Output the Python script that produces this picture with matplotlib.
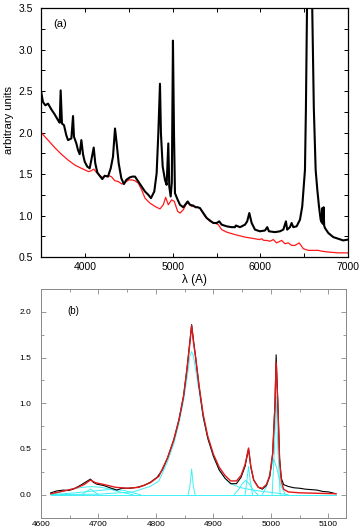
import matplotlib
matplotlib.use("Agg")
import matplotlib.pyplot as plt
from matplotlib.ticker import MultipleLocator, FixedLocator, FormatStrFormatter

plt.rcParams['font.family'] = ['Liberation Sans', 'DejaVu Sans']

# ---------------- Panel (a) data ----------------
wl_a_obs = [3500, 3520, 3547, 3578, 3616, 3654, 3692, 3711, 3722, 3737, 3760, 3786, 3806,
            3844, 3863, 3874, 3901, 3920, 3939, 3958, 3977, 3996, 4026, 4053, 4072, 4099,
            4117, 4140, 4167, 4197, 4224, 4262, 4293, 4319, 4342, 4361, 4384, 4414, 4444,
            4471, 4510, 4540, 4570, 4608, 4646, 4684, 4722, 4752, 4790, 4817, 4836, 4855,
            4866, 4886, 4912, 4931, 4950, 4961, 4977, 4990, 5003, 5015, 5026, 5057, 5083,
            5121, 5150, 5171, 5197, 5235, 5260, 5285, 5311, 5349, 5388, 5425, 5463, 5502,
            5531, 5559, 5616, 5673, 5711, 5720, 5768, 5825, 5850, 5874, 5901, 5939, 5996,
            6053, 6079, 6098, 6167, 6224, 6262, 6292, 6306, 6338, 6357, 6376, 6414, 6452,
            6478, 6498, 6509, 6520, 6532, 6545, 6560, 6575, 6592, 6610, 6631, 6650, 6669,
            6688, 6700, 6707, 6712, 6722, 6728, 6737, 6775, 6832, 6889, 6946, 7000]
flux_a_obs = [2.49, 2.37, 2.33, 2.35, 2.28, 2.22, 2.15, 2.12, 2.51, 2.11, 2.09, 1.97, 1.91,
              1.93, 2.20, 1.95, 1.87, 1.79, 1.74, 1.91, 1.74, 1.65, 1.59, 1.57, 1.67, 1.82,
              1.63, 1.52, 1.48, 1.44, 1.48, 1.47, 1.57, 1.71, 2.05, 1.87, 1.63, 1.45, 1.38,
              1.43, 1.46, 1.47, 1.47, 1.41, 1.35, 1.29, 1.25, 1.21, 1.29, 1.51, 1.99, 2.59,
              1.99, 1.59, 1.43, 1.37, 1.87, 1.35, 1.23, 1.40, 3.11, 1.99, 1.27, 1.19, 1.13,
              1.10, 1.14, 1.17, 1.13, 1.12, 1.10, 1.10, 1.09, 1.03, 0.97, 0.94, 0.91, 0.91,
              0.93, 0.89, 0.87, 0.86, 0.86, 0.88, 0.86, 0.89, 0.93, 1.03, 0.91, 0.83, 0.81,
              0.82, 0.86, 0.81, 0.80, 0.81, 0.83, 0.93, 0.83, 0.86, 0.91, 0.86, 0.87, 0.95,
              1.11, 1.39, 1.55, 2.30, 3.50, 4.50, 5.00, 4.50, 3.50, 2.30, 1.55, 1.31, 1.11,
              0.95, 0.92, 1.09, 0.90, 1.10, 0.88, 0.85, 0.79, 0.74, 0.72, 0.70, 0.71]

wl_a_mod = [3500, 3578, 3654, 3730, 3806, 3882, 3958, 4000, 4040, 4070, 4100, 4130, 4160,
            4200, 4240, 4270, 4300, 4340, 4380, 4420, 4456, 4500, 4532, 4570, 4608, 4646,
            4684, 4741, 4798, 4855, 4893, 4920, 4950, 4988, 5018, 5057, 5083, 5121, 5160,
            5178, 5216, 5254, 5311, 5368, 5425, 5482, 5520, 5559, 5616, 5711, 5825, 5939,
            5990, 6015, 6040, 6072, 6110, 6148, 6186, 6243, 6281, 6319, 6357, 6395, 6444,
            6490, 6547, 6661, 6700, 6775, 6889, 7000]
flux_a_mod = [2.00, 1.91, 1.82, 1.74, 1.67, 1.61, 1.57, 1.55, 1.53, 1.54, 1.56, 1.52, 1.49,
              1.46, 1.48, 1.48, 1.47, 1.42, 1.41, 1.38, 1.40, 1.43, 1.43, 1.42, 1.39, 1.31,
              1.21, 1.15, 1.11, 1.08, 1.13, 1.22, 1.13, 1.19, 1.17, 1.05, 1.03, 1.07, 1.15,
              1.15, 1.11, 1.11, 1.09, 0.99, 0.93, 0.91, 0.89, 0.83, 0.80, 0.77, 0.74, 0.72,
              0.71, 0.72, 0.70, 0.70, 0.69, 0.71, 0.67, 0.70, 0.66, 0.67, 0.64, 0.64, 0.67,
              0.60, 0.58, 0.58, 0.57, 0.56, 0.55, 0.55]

yticks_a = [0.5, 1.0, 1.5, 2.0, 2.5, 3.0, 3.5]
xticks_a = [4000, 5000, 6000, 7000]

# ---------------- Panel (b) data ----------------
wl_b_obs = [4617, 4627, 4639, 4648, 4656, 4668, 4677, 4686, 4691, 4697, 4709, 4720, 4732,
            4741, 4755, 4767, 4779, 4790, 4802, 4811, 4820, 4831, 4840, 4848, 4854, 4859,
            4862, 4865, 4869, 4875, 4882, 4890, 4900, 4910, 4920, 4930, 4940, 4948, 4955,
            4961, 4965, 4970, 4978, 4985, 4992, 4998, 5003, 5007, 5009, 5012, 5015, 5018,
            5022, 5030, 5040, 5050, 5060, 5070, 5080, 5090, 5100, 5113]
flux_b_obs = [0.02, 0.04, 0.05, 0.045, 0.06, 0.10, 0.135, 0.17, 0.135, 0.115, 0.10, 0.075,
              0.05, 0.07, 0.07, 0.08, 0.10, 0.135, 0.19, 0.27, 0.40, 0.60, 0.82, 1.08, 1.38,
              1.68, 1.86, 1.70, 1.50, 1.18, 0.86, 0.62, 0.42, 0.27, 0.18, 0.12, 0.12, 0.19,
              0.31, 0.50, 0.30, 0.16, 0.08, 0.06, 0.10, 0.20, 0.45, 1.00, 1.53, 1.00, 0.40,
              0.18, 0.11, 0.09, 0.075, 0.07, 0.06, 0.055, 0.05, 0.035, 0.03, 0.01]

wl_b_fit = [4617, 4640, 4660, 4675, 4686, 4695, 4710, 4730, 4750, 4770, 4790, 4805, 4820,
            4831, 4840, 4848, 4854, 4859, 4862, 4865, 4869, 4875, 4882, 4890, 4900, 4910,
            4920, 4930, 4940, 4948, 4955, 4961, 4965, 4970, 4978, 4985, 4992, 4998, 5003,
            5007, 5009, 5012, 5015, 5018, 5022, 5030, 5050, 5080, 5113]
flux_b_fit = [0.01, 0.04, 0.07, 0.11, 0.16, 0.13, 0.11, 0.08, 0.07, 0.08, 0.13, 0.20, 0.40,
              0.60, 0.82, 1.08, 1.38, 1.66, 1.85, 1.68, 1.50, 1.19, 0.88, 0.64, 0.44, 0.30,
              0.21, 0.15, 0.15, 0.21, 0.33, 0.51, 0.31, 0.16, 0.08, 0.07, 0.11, 0.21, 0.45,
              0.98, 1.45, 0.98, 0.38, 0.15, 0.06, 0.03, 0.02, 0.015, 0.01]

# Fit components (cyan)
wl_zero = [4617, 5113]
flux_zero = [0.0, 0.0]

wl_hb_broad = [4617, 4700, 4760, 4790, 4805, 4820, 4831, 4840, 4848, 4854, 4859, 4862,
               4865, 4869, 4875, 4882, 4890, 4900, 4910, 4920, 4930, 4945, 4960, 4980,
               5000, 5030]
flux_hb_broad = [0.0, 0.005, 0.03, 0.09, 0.15, 0.36, 0.56, 0.78, 1.03, 1.28, 1.52, 1.565,
                 1.52, 1.37, 1.13, 0.84, 0.61, 0.41, 0.27, 0.18, 0.12, 0.08, 0.06, 0.04,
                 0.025, 0.0]

wl_hb_narrow = [4856, 4859, 4862, 4865, 4868]
flux_hb_narrow = [0.0, 0.09, 0.28, 0.09, 0.0]

wl_heii_a = [4617, 4640, 4660, 4680, 4691, 4705, 4720, 4740, 4760]
flux_heii_a = [0.0, 0.04, 0.07, 0.085, 0.087, 0.08, 0.06, 0.025, 0.0]

wl_heii_b = [4617, 4660, 4700, 4726, 4745, 4760, 4773]
flux_heii_b = [0.0, 0.02, 0.045, 0.06, 0.045, 0.02, 0.0]

wl_heii_n = [4671, 4678, 4686, 4693, 4700]
flux_heii_n = [0.0, 0.03, 0.062, 0.03, 0.0]

wl_o3a_broad = [4936, 4944, 4950, 4956, 4962, 4969, 4977]
flux_o3a_broad = [0.0, 0.06, 0.12, 0.155, 0.12, 0.05, 0.0]

wl_o3a_narrow = [4955, 4958, 4961, 4964, 4968]
flux_o3a_narrow = [0.0, 0.15, 0.31, 0.15, 0.0]

wl_o3b_broad = [4985, 4993, 4999, 5005, 5011, 5017, 5025]
flux_o3b_broad = [0.0, 0.10, 0.27, 0.39, 0.27, 0.10, 0.0]

wl_o3b_narrow = [5002, 5006, 5009, 5012, 5016]
flux_o3b_narrow = [0.0, 0.50, 1.08, 0.50, 0.0]

yticks_b = [0.0, 0.5, 1.0, 1.5, 2.0]
xticks_b = [4600, 4700, 4800, 4900, 5000, 5100]

# ---------------- Figure ----------------
W, H = 360, 532
fig = plt.figure(figsize=(W / 100, H / 100), dpi=100)

def frac(l, t, r, b):
    return [l / W, 1 - b / H, (r - l) / W, (b - t) / H]

ax1 = fig.add_axes(frac(41.2, 8.3, 348, 257))
ax1.plot(wl_a_mod, flux_a_mod, color='#ff1a1a', lw=0.9)
ax1.plot(wl_a_obs, flux_a_obs, color='black', lw=1.5)
ax1.set_xlim(3500, 7000)
ax1.set_ylim(0.5, 3.5)
ax1.xaxis.set_major_locator(FixedLocator(xticks_a))
ax1.xaxis.set_minor_locator(MultipleLocator(500))
ax1.yaxis.set_major_locator(FixedLocator(yticks_a))
ax1.yaxis.set_minor_locator(MultipleLocator(0.25))
ax1.yaxis.set_major_formatter(FormatStrFormatter('%.1f'))
ax1.tick_params(which='both', direction='in', top=True, right=True,
                length=3.2, width=0.7, labelsize=7.5, colors='black')
ax1.tick_params(axis='y', pad=6)
ax1.tick_params(axis='x', pad=3.5)
for s in ax1.spines.values():
    s.set_linewidth(0.9)
ax1.set_ylabel('arbitrary units', fontsize=8)
ax1.yaxis.set_label_coords(-0.09, 0.55)
ax1.set_xlabel('λ (A)', fontsize=8.5, labelpad=1.5)
ax1.text(0.04, 0.955, '(a)', transform=ax1.transAxes, fontsize=8, va='top', ha='left')

ax2 = fig.add_axes(frac(41, 289, 345.7, 517.5))
cyan = '#3ff0f5'
for xs, ys in [(wl_zero, flux_zero), (wl_hb_broad, flux_hb_broad),
               (wl_hb_narrow, flux_hb_narrow), (wl_heii_a, flux_heii_a),
               (wl_heii_b, flux_heii_b), (wl_heii_n, flux_heii_n),
               (wl_o3a_broad, flux_o3a_broad), (wl_o3a_narrow, flux_o3a_narrow),
               (wl_o3b_broad, flux_o3b_broad), (wl_o3b_narrow, flux_o3b_narrow)]:
    ax2.plot(xs, ys, color=cyan, lw=0.7)
ax2.plot(wl_b_obs, flux_b_obs, color='black', lw=0.8)
ax2.plot(wl_b_fit, flux_b_fit, color='#e01818', lw=1.0)
ax2.set_xlim(4600, 5130)
ax2.set_ylim(-0.25, 2.25)
ax2.xaxis.set_major_locator(FixedLocator(xticks_b))
ax2.xaxis.set_minor_locator(MultipleLocator(50))
ax2.yaxis.set_major_locator(FixedLocator(yticks_b))
ax2.yaxis.set_minor_locator(MultipleLocator(0.25))
ax2.yaxis.set_major_formatter(FormatStrFormatter('%.1f'))
ax2.tick_params(which='major', direction='in', top=True, right=True,
                length=3.5, width=0.6, labelsize=6, color='#888888', labelcolor='black')
ax2.tick_params(which='minor', direction='in', top=True, right=True,
                length=2.0, width=0.6, color='#888888')
ax2.tick_params(axis='y', pad=7)
ax2.tick_params(axis='x', pad=2.5)
for s in ax2.spines.values():
    s.set_linewidth(0.7)
    s.set_color('#888888')
ax2.text(0.085, 0.925, '(b)', transform=ax2.transAxes, fontsize=7, va='top', ha='left')

fig.savefig('out.png', dpi=100)
